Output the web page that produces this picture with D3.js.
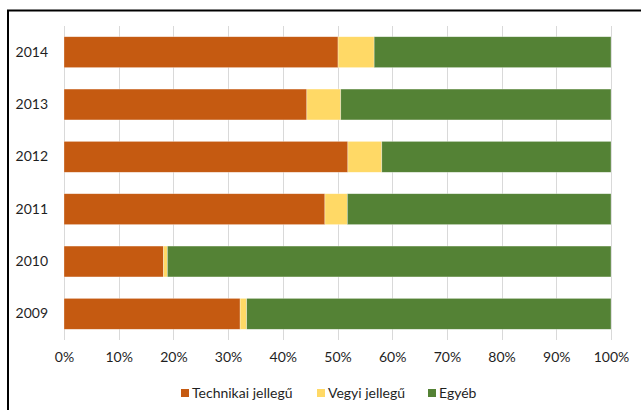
<!DOCTYPE html>
<html>
<head>
<meta charset="utf-8">
<script src="https://cdn.jsdelivr.net/npm/d3@7"></script>
<style>
  html, body { margin: 0; padding: 0; background: #fff; }
  svg { display: block; }
  text { font-family: Lato, "Open Sans", sans-serif; fill: #1f1f1f; }
</style>
</head>
<body>
<svg id="chart" width="641" height="410"></svg>
<script>
// Share of each category per year (percent of total)
const years = ["2014", "2013", "2012", "2011", "2010", "2009"];
const seriesNames = ["Technikai jellegű", "Vegyi jellegű", "Egyéb"];
const technikai = [50.1, 44.4, 51.9, 47.7, 18.2, 32.2];
const vegyi     = [6.6, 6.2, 6.2, 4.1, 0.7, 1.2];
const egyeb     = [43.3, 49.4, 41.9, 48.2, 81.1, 66.6];
const xTicks = [0, 10, 20, 30, 40, 50, 60, 70, 80, 90, 100];
const colors = ["#C55A11", "#FFD966", "#548235"];

const svg = d3.select("#chart");

// chart frame
svg.append("rect")
  .attr("x", 8).attr("y", 10.5)
  .attr("width", 660).attr("height", 420)
  .attr("fill", "none").attr("stroke", "#000").attr("stroke-width", 2);

const rows = years.map((y, i) => ({
  year: y,
  "Technikai jellegű": technikai[i],
  "Vegyi jellegű": vegyi[i],
  "Egyéb": egyeb[i]
}));

const x = d3.scaleLinear().domain([0, 100]).range([64, 611]);
const y = d3.scaleBand().domain(years).range([26, 340]).paddingInner(0.41).paddingOuter(0.205);

// vertical gridlines
svg.append("g")
  .selectAll("line")
  .data(xTicks)
  .join("line")
  .attr("x1", d => Math.round(x(d)) + 0.5)
  .attr("x2", d => Math.round(x(d)) + 0.5)
  .attr("y1", 26).attr("y2", 340)
  .attr("stroke", "#d9d9d9").attr("stroke-width", 1);

const stack = d3.stack().keys(seriesNames);
const layers = stack(rows);

svg.append("g")
  .selectAll("g")
  .data(layers)
  .join("g")
  .attr("fill", (d, i) => colors[i])
  .selectAll("rect")
  .data(d => d)
  .join("rect")
  .attr("x", d => x(d[0]))
  .attr("y", d => y(d.data.year))
  .attr("width", d => x(d[1]) - x(d[0]))
  .attr("height", y.bandwidth())
  .attr("stroke", "#fff").attr("stroke-width", 0.6).attr("stroke-opacity", 0.5);

// x axis labels
const xAxis = d3.axisBottom(x)
  .tickValues(xTicks)
  .tickFormat(d => d + "%")
  .tickSize(0)
  .tickPadding(0);
const gx = svg.append("g").attr("transform", "translate(0,349)").call(xAxis);
gx.select(".domain").remove();
gx.selectAll("text").attr("font-size", 14).attr("font-family", "Lato, sans-serif").attr("fill", "#1f1f1f").attr("dy", "0.9em");

// y axis labels
const yAxis = d3.axisLeft(y).tickSize(0).tickPadding(16);
const gy = svg.append("g").attr("transform", "translate(64,0)").call(yAxis);
gy.select(".domain").remove();
gy.selectAll("text").attr("font-size", 14).attr("font-family", "Lato, sans-serif").attr("fill", "#1f1f1f");

// legend
const legendX = [181, 317, 428];
const legend = svg.append("g")
  .selectAll("g")
  .data(seriesNames)
  .join("g")
  .attr("transform", (d, i) => `translate(${legendX[i]},389)`);
legend.append("rect")
  .attr("width", 8).attr("height", 8)
  .attr("fill", (d, i) => colors[i]);
legend.append("text")
  .attr("x", 11).attr("y", 4)
  .attr("dy", "0.35em")
  .attr("font-size", 14)
  .text(d => d);
</script>
</body>
</html>
